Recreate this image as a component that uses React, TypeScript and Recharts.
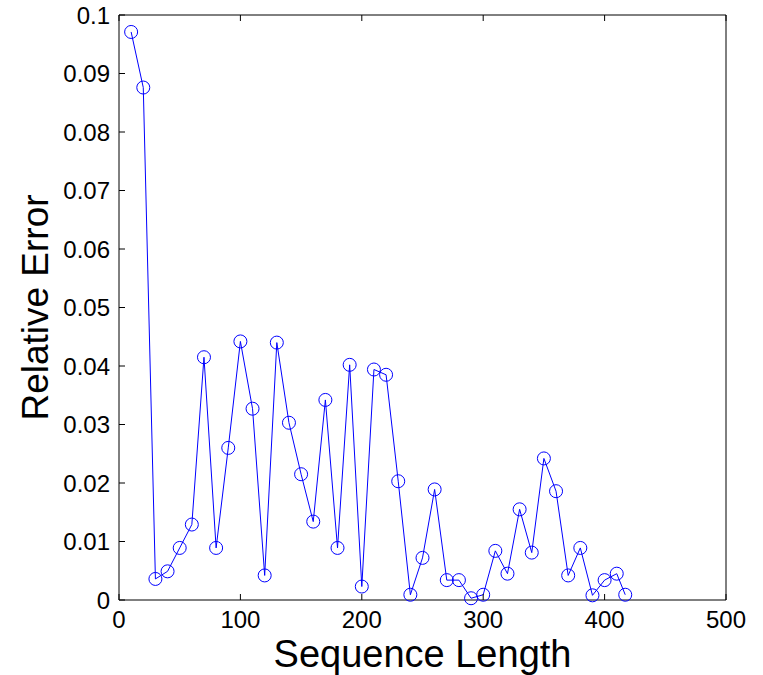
import React from 'react';
import { LineChart, Line, XAxis, YAxis, Label } from 'recharts';

const sequenceLength = [
  10, 20, 30, 40, 50, 60, 70, 80, 90, 100,
  110, 120, 130, 140, 150, 160, 170, 180, 190, 200,
  210, 220, 230, 240, 250, 260, 270, 280, 290, 300,
  310, 320, 330, 340, 350, 360, 370, 380, 390, 400,
  410, 417,
];

const relativeError = [
  0.0971, 0.0876, 0.0036, 0.0049, 0.0089, 0.0129, 0.0415, 0.0089, 0.026, 0.0442,
  0.0327, 0.0042, 0.044, 0.0303, 0.0215, 0.0134, 0.0342, 0.0089, 0.0402, 0.0023,
  0.0394, 0.0385, 0.0203, 0.0009, 0.0072, 0.0189, 0.0034, 0.0034, 0.0003, 0.0009,
  0.0084, 0.0045, 0.0155, 0.0081, 0.0242, 0.0186, 0.0042, 0.0089, 0.0008, 0.0034,
  0.0045, 0.0009,
];

const xTicks = [0, 100, 200, 300, 400, 500];
const yTicks = [0, 0.01, 0.02, 0.03, 0.04, 0.05, 0.06, 0.07, 0.08, 0.09, 0.1];

const xTitle = 'Sequence Length';
const yTitle = 'Relative Error';

const data = sequenceLength.map((x, i) => ({ x, err: relativeError[i] }));

const FONT = '"Liberation Sans", Arial, Helvetica, sans-serif';
const BLUE = '#0000ff';

const tickStyle = { fontSize: 24, fill: '#000', fontFamily: FONT };

const NoLabel = () => <g />;

const XTitle = (props: any) => {
  const vb = props.viewBox || {};
  return (
    <text
      x={vb.x + vb.width / 2}
      y={vb.y + 67}
      textAnchor="middle"
      fontSize={38}
      fontFamily={FONT}
      fill="#000"
    >
      {xTitle}
    </text>
  );
};

const YTitle = (props: any) => {
  const vb = props.viewBox || {};
  const cx = vb.x + 35;
  const cy = vb.y + vb.height / 2;
  return (
    <text
      x={cx}
      y={cy}
      textAnchor="middle"
      dominantBaseline="central"
      transform={`rotate(-90, ${cx}, ${cy})`}
      fontSize={37}
      fontFamily={FONT}
      fill="#000"
    >
      {yTitle}
    </text>
  );
};

export default function App() {
  return (
    <div style={{ position: 'absolute', left: 0, top: 0, width: 763, height: 675, background: '#fff' }}>
      <LineChart
        width={763}
        height={675}
        data={data}
        margin={{ top: 14, right: 36, bottom: 0, left: 0 }}
      >
        <XAxis
          dataKey="x"
          type="number"
          domain={[0, 500]}
          ticks={xTicks}
          height={75}
          tickSize={-6}
          tickMargin={17}
          tick={tickStyle}
          axisLine={{ stroke: '#000', strokeWidth: 1 }}
          tickLine={{ stroke: '#000', strokeWidth: 1 }}
          interval={0}
        >
          <Label content={<XTitle />} />
        </XAxis>
        <XAxis
          xAxisId="top"
          orientation="top"
          dataKey="x"
          type="number"
          domain={[0, 500]}
          ticks={xTicks}
          height={1}
          tickSize={-6}
          tick={<NoLabel />}
          axisLine={{ stroke: '#000', strokeWidth: 1 }}
          tickLine={{ stroke: '#000', strokeWidth: 1 }}
          interval={0}
        />
        <YAxis
          type="number"
          domain={[0, 0.1]}
          ticks={yTicks}
          width={119}
          tickSize={-6}
          tickMargin={15}
          tick={tickStyle}
          axisLine={{ stroke: '#000', strokeWidth: 1 }}
          tickLine={{ stroke: '#000', strokeWidth: 1 }}
          interval={0}
        >
          <Label content={<YTitle />} />
        </YAxis>
        <YAxis
          yAxisId="right"
          orientation="right"
          type="number"
          domain={[0, 0.1]}
          ticks={yTicks}
          width={1}
          tickSize={-6}
          tick={<NoLabel />}
          axisLine={{ stroke: '#000', strokeWidth: 1 }}
          tickLine={{ stroke: '#000', strokeWidth: 1 }}
          interval={0}
        />
        <Line
          type="linear"
          dataKey="err"
          stroke={BLUE}
          strokeWidth={1}
          dot={{ r: 6.5, stroke: BLUE, strokeWidth: 1, fill: 'none' }}
          activeDot={false}
          isAnimationActive={false}
        />
      </LineChart>
    </div>
  );
}
